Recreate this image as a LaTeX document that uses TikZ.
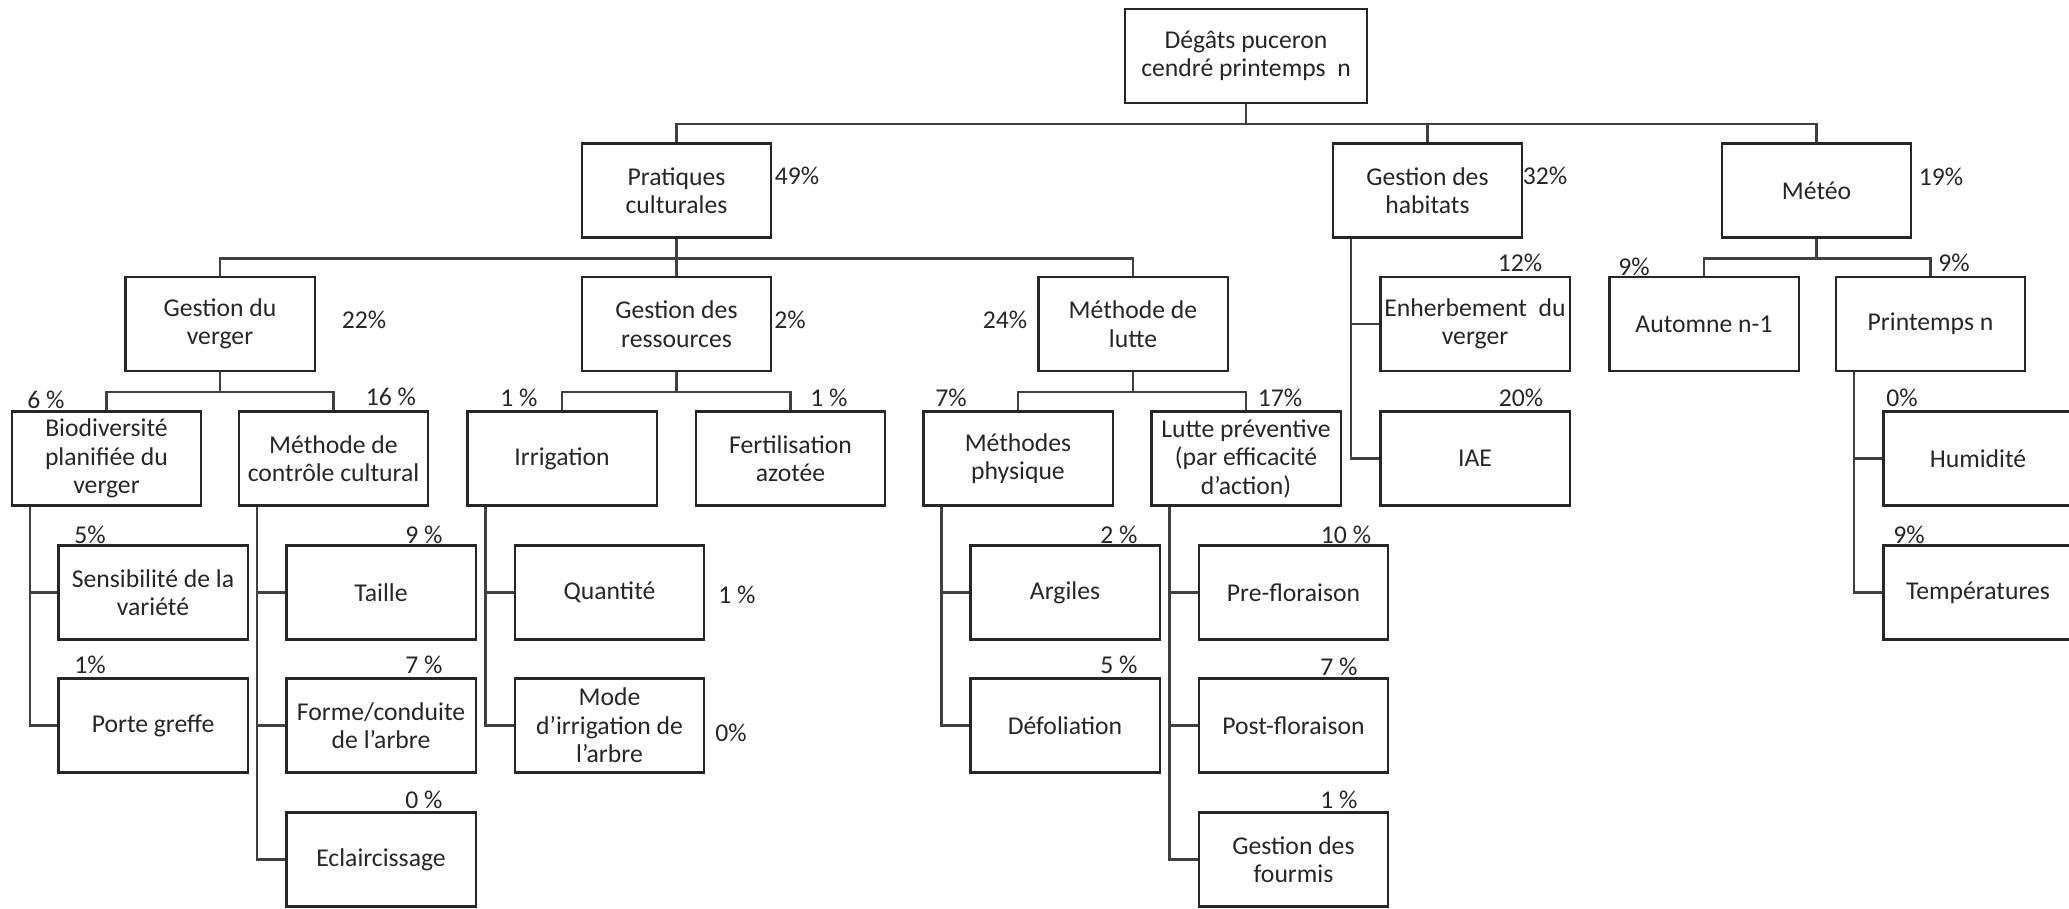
\documentclass[tikz,border=0pt]{standalone}
\usepackage{fontspec}
\setmainfont{Carlito}

\tikzset{
  box/.style={draw=black!85,line width=0.6pt,minimum width=1.89cm,minimum height=0.94cm,align=center,inner sep=1pt,text=black!85},
  pct/.style={inner sep=0pt,text=black!85},
  link/.style={draw=black!75,line width=0.65pt}
}

\begin{document}
\begin{tikzpicture}[x=0.01cm,y=-0.01cm,font=\fontsize{7.3}{8.1}\selectfont]
\useasboundingbox (0,0) rectangle (2069,908);
% niveau 0 et 1
\node[box,minimum width=2.42cm] (root) at (1246,56) {Dégâts puceron\\cendré printemps~ n};
\node[box] (prat) at (676.5,190.5) {Pratiques\\culturales};
\node[box] (habit) at (1427.5,190.5) {Gestion des\\habitats};
\node[box] (meteo) at (1816.5,190.5) {Météo};
% niveau 2
\node[box] (verger) at (220,324) {Gestion du\\verger};
\node[box] (ressources) at (676.5,324) {Gestion des\\ressources};
\node[box] (lutte) at (1133,324) {Méthode de\\lutte};
\node[box] (enherb) at (1475,324) {Enherbement~ du\\verger};
\node[box] (automne) at (1704,324) {Automne n-1};
\node[box] (printemps) at (1930.5,324) {Printemps n};
% niveau 3
\node[box] (biodiv) at (106.5,458.5) {Biodiversité\\planifiée du\\verger};
\node[box] (controle) at (333.5,458.5) {Méthode de\\contrôle cultural};
\node[box] (irrig) at (562,458.5) {Irrigation};
\node[box] (fertil) at (790.5,458.5) {Fertilisation\\azotée};
\node[box] (physique) at (1018,458.5) {Méthodes\\physique};
\node[box] (preventive) at (1246,458.5) {Lutte préventive\\(par efficacité\\d’action)};
\node[box] (iae) at (1475,458.5) {IAE};
\node[box] (humid) at (1978,458.5) {Humidité};
% niveau 4
\node[box] (sensib) at (153,592.5) {Sensibilité de la\\variété};
\node[box] (taille) at (381,592.5) {Taille};
\node[box] (quantite) at (609.5,592.5) {Quantité};
\node[box] (argiles) at (1065,592.5) {Argiles};
\node[box] (prefl) at (1293.5,592.5) {Pre-floraison};
\node[box] (temper) at (1978,592.5) {Températures};
% niveau 5
\node[box] (porte) at (153,725.5) {Porte greffe};
\node[box] (forme) at (381,725.5) {Forme/conduite\\de l’arbre};
\node[box] (mode) at (609.5,725.5) {Mode\\d’irrigation de\\l’arbre};
\node[box] (defol) at (1065,725.5) {Défoliation};
\node[box] (postfl) at (1293.5,725.5) {Post-floraison};
% niveau 6
\node[box] (eclair) at (381,859.5) {Eclaircissage};
\node[box] (fourmis) at (1293.5,859.5) {Gestion des\\fourmis};

% liaisons en rateau
\foreach \c in {prat,habit,meteo} \draw[link] (root.south) -- ++(0,20) -| (\c.north);
\foreach \c in {verger,ressources,lutte} \draw[link] (prat.south) -- ++(0,20) -| (\c.north);
\foreach \c in {automne,printemps} \draw[link] (meteo.south) -- ++(0,20) -| (\c.north);
\foreach \c in {biodiv,controle} \draw[link] (verger.south) -- ++(0,20) -| (\c.north);
\foreach \c in {irrig,fertil} \draw[link] (ressources.south) -- ++(0,20) -| (\c.north);
\foreach \c in {physique,preventive} \draw[link] (lutte.south) -- ++(0,20) -| (\c.north);
% liaisons laterales
\foreach \p/\c in {habit/enherb,habit/iae,biodiv/sensib,biodiv/porte,controle/taille,controle/forme,controle/eclair,irrig/quantite,irrig/mode,physique/argiles,physique/defol,preventive/prefl,preventive/postfl,preventive/fourmis,printemps/humid,printemps/temper}
  \draw[link] ([xshift=0.19cm]\p.south west) |- (\c.west);

% pourcentages
\node[pct] (pPrat) at (797,176) {49\%};
\node[pct] (pHabit) at (1545,176) {32\%};
\node[pct] (pMeteo) at (1941,177) {19\%};
\node[pct] (pVerger) at (364,320) {22\%};
\node[pct] (pRess) at (790,320) {2\%};
\node[pct] (pLutte) at (1005,320) {24\%};
\node[pct] (pEnherb) at (1520,263) {12\%};
\node[pct] (pAutomne) at (1634,267) {9\%};
\node[pct] (pPrint) at (1954,263) {9\%};
\node[pct] (pBiodiv) at (46,400) {6 \%};
\node[pct] (pControle) at (391,397) {16 \%};
\node[pct] (pIrrig) at (519,398) {1 \%};
\node[pct] (pFertil) at (829,398) {1 \%};
\node[pct] (pPhys) at (951,398) {7\%};
\node[pct] (pPrev) at (1280,398) {17\%};
\node[pct] (pIae) at (1521,398) {20\%};
\node[pct] (pHumid) at (1902,398) {0\%};
\node[pct] (pSensib) at (90,535) {5\%};
\node[pct] (pTaille) at (424,535) {9 \%};
\node[pct] (pQuant) at (737,595) {1 \%};
\node[pct] (pArgiles) at (1119,535) {2 \%};
\node[pct] (pPrefl) at (1346,535) {10 \%};
\node[pct] (pTemper) at (1909,535) {9\%};
\node[pct] (pPorte) at (90,665) {1\%};
\node[pct] (pForme) at (424,665) {7 \%};
\node[pct] (pMode) at (731,733) {0\%};
\node[pct] (pDefol) at (1119,665) {5 \%};
\node[pct] (pPostfl) at (1339,667) {7 \%};
\node[pct] (pEclair) at (424,800) {0 \%};
\node[pct] (pFourmis) at (1339,800) {1 \%};
\end{tikzpicture}
\end{document}
